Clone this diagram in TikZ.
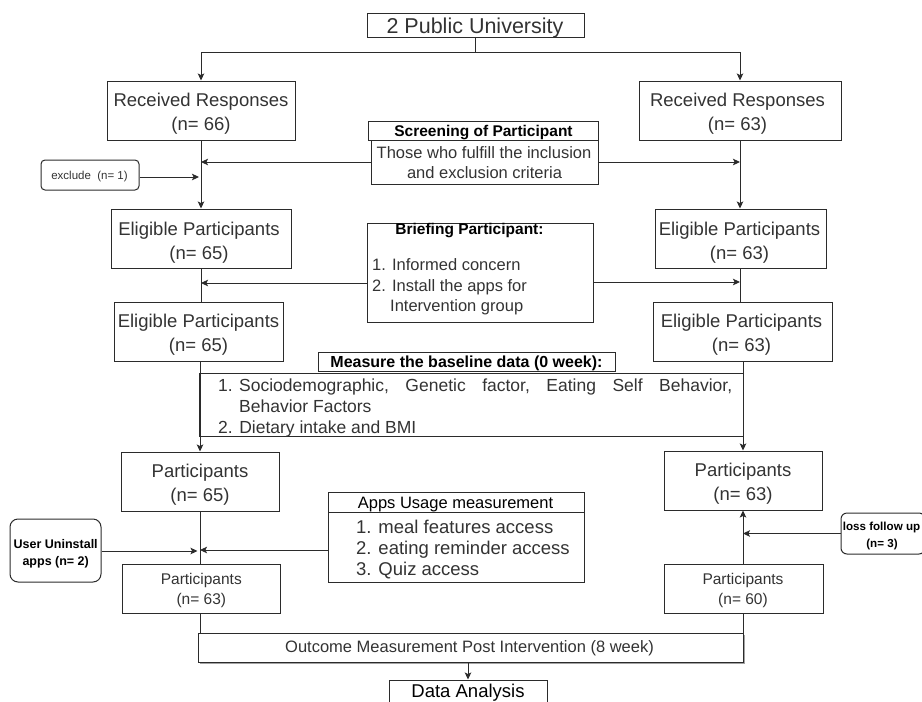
\documentclass[tikz,border=0pt]{standalone}
\usepackage{fontspec}
\setmainfont{Liberation Sans}
\usetikzlibrary{arrows.meta,shadows}
\definecolor{txtc}{HTML}{333333}
\definecolor{linec}{HTML}{2B2B2B}
\begin{document}
\begin{tikzpicture}[x=1pt,y=-1pt,
  bx/.style={draw=linec,line width=1pt,inner sep=0pt,rectangle},
  rbx/.style={bx,rounded corners=#1},
  ln/.style={draw=linec,line width=1pt},
  ar/.style={ln,-{Stealth[length=7pt,width=6.5pt,inset=1.5pt]}},
  tx/.style={inner sep=0pt,anchor=base,text=txtc},
  txl/.style={tx,anchor=base west},
  hd/.style={text=black},
  fA/.style={font=\fontsize{21.5}{26}\selectfont},
  fB/.style={font=\fontsize{18.5}{22}\selectfont},
  fC/.style={font=\fontsize{17.5}{21}\selectfont},
  fD/.style={font=\fontsize{16.5}{20}\selectfont},
  fE/.style={font=\fontsize{15.5}{19}\selectfont},
  fH/.style={font=\fontsize{15.5}{19}\selectfont\bfseries},
  fS/.style={font=\fontsize{12.5}{15}\selectfont\bfseries},
  fT/.style={font=\fontsize{11.5}{14}\selectfont}]
\useasboundingbox (0,0) rectangle (922,702);

% boxes
\node[bx,minimum width=217,minimum height=24] (top) at (475.5,25) {};
\node[bx,minimum width=188,minimum height=59] (recL) at (201,110.5) {};
\node[bx,minimum width=202,minimum height=59] (recR) at (740,110.5) {};
\node[bx,minimum width=230,minimum height=19] (scrH) at (483,130.5) {};
\node[bx,minimum width=227,minimum height=44] (scrB) at (484.5,162) {};
\node[rbx=4pt,minimum width=98,minimum height=30] (excl) at (90,175) {};
\node[bx,minimum width=180,minimum height=59] (eligL1) at (201,238.5) {};
\node[bx,minimum width=171,minimum height=59] (eligR1) at (740.5,238.5) {};
\node[bx,minimum width=226,minimum height=99] (brief) at (480,272.5) {};
\node[bx,minimum width=169,minimum height=59] (eligL2) at (198.5,331.5) {};
\node[bx,minimum width=179,minimum height=59] (eligR2) at (742.5,331.5) {};
\node[bx,minimum width=297,minimum height=19] (measH) at (466.5,361.5) {};
\node[bx,minimum width=544,minimum height=63] (measB) at (471,404.5) {};
\node[bx,minimum width=158,minimum height=59] (partL) at (200,481.5) {};
\node[bx,minimum width=158,minimum height=59] (partR) at (743,480.5) {};
\node[bx,minimum width=256,minimum height=20] (appsH) at (456,502) {};
\node[bx,minimum width=256,minimum height=70] (appsB) at (456,547) {};
\node[rbx=8pt,minimum width=91,minimum height=63] (uninst) at (55.5,550.5) {};
\node[rbx=6pt,minimum width=84,minimum height=41] (loss) at (883,533.5) {};
\node[bx,minimum width=158,minimum height=49] (partL2) at (201,588.5) {};
\node[bx,minimum width=159,minimum height=49] (partR2) at (743.5,588.5) {};
\node[bx,fill=white,minimum width=545,minimum height=29,
  drop shadow={shadow xshift=1.5pt,shadow yshift=-1.5pt,opacity=0.6,fill=black!60}] (outc) at (470.5,647.5) {};
\node[bx,minimum width=158,minimum height=32] (data) at (468,696) {};

% texts
\node[tx,fA] (t1) at (475,33.5) {2 Public University};
\node[tx,fB] (t2) at (201,106.5) {Received Responses};
\node[tx,fB] (t3) at (201,130.5) {(n= 66)};
\node[tx,fB] (t4) at (737.5,106.5) {Received Responses};
\node[tx,fB] (t5) at (737.5,130.5) {(n= 63)};
\node[tx,fH,hd] (t6) at (483.5,136) {Screening of Participant};
\node[tx,fD] (t7) at (484,158.3) {Those who fulfill the inclusion};
\node[tx,fD] (t8) at (484.5,178.5) {and exclusion criteria};
\node[tx,fT] (t9) at (89.5,179) {exclude~~(n= 1)};
\node[tx,fB] (t10) at (199,235) {Eligible Participants};
\node[tx,fB] (t11) at (199,259) {(n= 65)};
\node[tx,fB] (t12) at (739.5,235) {Eligible Participants};
\node[tx,fB] (t13) at (739.5,259) {(n= 63)};
\node[tx,fH,hd] (t14) at (469.5,234.5) {Briefing Participant:};
\node[txl,fD] (t15) at (372,270.7) {1. Informed concern};
\node[txl,fD] (t16) at (372,291.7) {2. Install the apps for};
\node[txl,fD] (t17) at (390,311.7) {Intervention group};
\node[tx,fB] (t18) at (198.5,327.5) {Eligible Participants};
\node[tx,fB] (t19) at (198.5,351) {(n= 65)};
\node[tx,fB] (t20) at (741.5,327.5) {Eligible Participants};
\node[tx,fB] (t21) at (741.5,351) {(n= 63)};
\node[tx,hd,font=\fontsize{16}{19}\selectfont\bfseries] (t22) at (466.5,367) {Measure the baseline data (0 week):};
\node[txl,fC] (t23) at (218,391.7) {\makebox[21pt][l]{1.}\hbox to 493pt{Sociodemographic,\hfill Genetic\hfill factor,\hfill Eating\hfill Self\hfill Behavior,}};
\node[txl,fC] (t24) at (239,412.3) {Behavior Factors};
\node[txl,fC] (t25) at (218,433.3) {2. Dietary intake and BMI};
\node[tx,fB] (t26) at (200,477.3) {Participants};
\node[tx,fB] (t27) at (200,501) {(n= 65)};
\node[tx,fB] (t28) at (743,476.7) {Participants};
\node[tx,fB] (t29) at (743,500) {(n= 63)};
\node[tx,fD,hd] (t30) at (455.5,508.5) {Apps Usage measurement};
\node[txl,fB] (t31) at (356,533.5) {1. meal features access};
\node[txl,fB] (t32) at (356,554.5) {2. eating reminder access};
\node[txl,fB] (t33) at (356,575.5) {3. Quiz access};
\node[tx,fS,hd] (t34) at (55.7,548.3) {User Uninstall};
\node[tx,fS,hd] (t35) at (55.7,565.5) {apps (n= 2)};
\node[tx,hd,font=\fontsize{11.6}{14}\selectfont\bfseries] (t36) at (881.5,530) {loss follow up};
\node[tx,hd,font=\fontsize{11.6}{14}\selectfont\bfseries] (t37) at (882,547) {(n= 3)};
\node[tx,fE] (t38) at (201.3,584) {Participants};
\node[tx,fE] (t39) at (201.3,604) {(n= 63)};
\node[tx,fE] (t40) at (743,584) {Participants};
\node[tx,fE] (t41) at (743,604) {(n= 60)};
\node[tx,fD] (t42) at (469.5,652) {Outcome Measurement Post Intervention (8 week)};
\node[tx,fB,hd] (t43) at (468,697.3) {Data Analysis};

% connectors
\draw[ar] (top.south) -- ++(0,15) -| (recL.north);
\draw[ar] (top.south) -- ++(0,15) -| (recR.north);
\draw[ar] (recL.south) -- (eligL1.north);
\draw[ar] (recR.south) -- (recR.south |- eligR1.north);
\draw[ar] (scrB.west) -- (scrB.west -| recL.south);
\draw[ar] (scrB.east) -- (scrB.east -| recR.south);
\draw[ar,shorten >=2pt] ([yshift=-2pt]excl.east) -- ([yshift=-2pt]excl.east -| recL.south);
\draw[ln] (eligL1.south) -- (eligL1.south |- eligL2.north);
\draw[ar] ([yshift=-10.5pt]brief.west) -- ([yshift=-10.5pt]brief.west -| eligL1.south);
\draw[ar] ([yshift=-9.5pt]brief.east) -- ([yshift=-9.5pt]brief.east -| recR.south);
\draw[ln] (recR.south |- eligR1.south) -- (recR.south |- eligR2.north);
\draw[ar] (partL.north |- eligL2.south) -- (partL.north);
\draw[ar] (partR.north |- eligR2.south) -- (partR.north);
\draw[ln] (partL.south) -- (partL.south |- partL2.north);
\draw[ar,shorten >=2.5pt] ([yshift=-0.5pt]uninst.east) -- ([yshift=-0.5pt]uninst.east -| partL.south);
\draw[ar] ([yshift=-3pt]appsB.west) -- ([yshift=-3pt]appsB.west -| partL.south);
\draw[ar] (partR.south |- partR2.north) -- (partR.south);
\draw[ar] (loss.west) -- (loss.west -| partR.south);
\draw[ln] (partL.south |- partL2.south) -- (partL.south |- outc.north);
\draw[ln] (partR.south |- partR2.south) -- (partR.south |- outc.north);
\draw[ar] (outc.south -| data.north) -- (data.north);
\end{tikzpicture}
\end{document}
